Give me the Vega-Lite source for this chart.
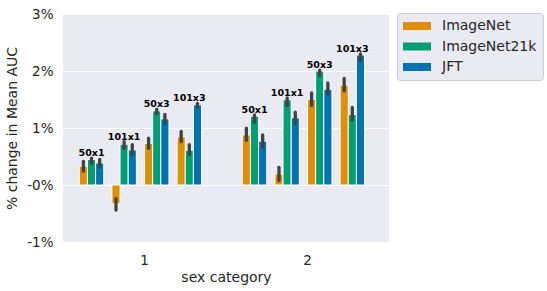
{
  "$schema": "https://vega.github.io/schema/vega-lite/v6.json",
  "autosize": "none",
  "width": 326,
  "height": 228,
  "padding": {"left": 63, "top": 14, "right": 158, "bottom": 49},
  "background": "white",
  "config": {
    "font": "DejaVu Sans",
    "view": {"fill": "#eaeaf2", "stroke": null},
    "axis": {"domain": false, "ticks": false, "labelColor": "#262626", "titleColor": "#262626", "labelFontSize": 13.5, "titleFontSize": 14, "titleFontWeight": "normal", "gridColor": "white", "gridWidth": 1}
  },
  "data": {"values": [
    {"cat": "1", "size": "50x1", "dataset": "ImageNet", "slot": "50x1|ImageNet", "value": 0.33, "lo": 0.245, "hi": 0.415},
    {"cat": "1", "size": "50x1", "dataset": "ImageNet21k", "slot": "50x1|ImageNet21k", "value": 0.446, "lo": 0.38, "hi": 0.47},
    {"cat": "1", "size": "50x1", "dataset": "JFT", "slot": "50x1|JFT", "value": 0.387, "lo": 0.315, "hi": 0.45},
    {"cat": "1", "size": "101x1", "dataset": "ImageNet", "slot": "101x1|ImageNet", "value": -0.33, "lo": -0.44, "hi": -0.24},
    {"cat": "1", "size": "101x1", "dataset": "ImageNet21k", "slot": "101x1|ImageNet21k", "value": 0.715, "lo": 0.64, "hi": 0.76},
    {"cat": "1", "size": "101x1", "dataset": "JFT", "slot": "101x1|JFT", "value": 0.615, "lo": 0.53, "hi": 0.71},
    {"cat": "1", "size": "50x3", "dataset": "ImageNet", "slot": "50x3|ImageNet", "value": 0.727, "lo": 0.645, "hi": 0.82},
    {"cat": "1", "size": "50x3", "dataset": "ImageNet21k", "slot": "50x3|ImageNet21k", "value": 1.30, "lo": 1.25, "hi": 1.33},
    {"cat": "1", "size": "50x3", "dataset": "JFT", "slot": "50x3|JFT", "value": 1.16, "lo": 1.085, "hi": 1.24},
    {"cat": "1", "size": "101x3", "dataset": "ImageNet", "slot": "101x3|ImageNet", "value": 0.844, "lo": 0.76, "hi": 0.94},
    {"cat": "1", "size": "101x3", "dataset": "ImageNet21k", "slot": "101x3|ImageNet21k", "value": 0.61, "lo": 0.535, "hi": 0.71},
    {"cat": "1", "size": "101x3", "dataset": "JFT", "slot": "101x3|JFT", "value": 1.406, "lo": 1.37, "hi": 1.43},
    {"cat": "2", "size": "50x1", "dataset": "ImageNet", "slot": "50x1|ImageNet", "value": 0.879, "lo": 0.785, "hi": 0.996},
    {"cat": "2", "size": "50x1", "dataset": "ImageNet21k", "slot": "50x1|ImageNet21k", "value": 1.207, "lo": 1.10, "hi": 1.23},
    {"cat": "2", "size": "50x1", "dataset": "JFT", "slot": "50x1|JFT", "value": 0.768, "lo": 0.668, "hi": 0.879},
    {"cat": "2", "size": "101x1", "dataset": "ImageNet", "slot": "101x1|ImageNet", "value": 0.193, "lo": 0.077, "hi": 0.31},
    {"cat": "2", "size": "101x1", "dataset": "ImageNet21k", "slot": "101x1|ImageNet21k", "value": 1.494, "lo": 1.395, "hi": 1.53},
    {"cat": "2", "size": "101x1", "dataset": "JFT", "slot": "101x1|JFT", "value": 1.178, "lo": 1.08, "hi": 1.28},
    {"cat": "2", "size": "50x3", "dataset": "ImageNet", "slot": "50x3|ImageNet", "value": 1.50, "lo": 1.395, "hi": 1.617},
    {"cat": "2", "size": "50x3", "dataset": "ImageNet21k", "slot": "50x3|ImageNet21k", "value": 1.998, "lo": 1.92, "hi": 2.016},
    {"cat": "2", "size": "50x3", "dataset": "JFT", "slot": "50x3|JFT", "value": 1.68, "lo": 1.59, "hi": 1.79},
    {"cat": "2", "size": "101x3", "dataset": "ImageNet", "slot": "101x3|ImageNet", "value": 1.752, "lo": 1.65, "hi": 1.87},
    {"cat": "2", "size": "101x3", "dataset": "ImageNet21k", "slot": "101x3|ImageNet21k", "value": 1.237, "lo": 1.137, "hi": 1.36},
    {"cat": "2", "size": "101x3", "dataset": "JFT", "slot": "101x3|JFT", "value": 2.28, "lo": 2.19, "hi": 2.30}
  ]},
  "encoding": {
    "x": {"field": "cat", "type": "nominal", "scale": {"paddingInner": 0.2, "paddingOuter": 0.1}, "axis": {"title": "sex category", "labelAngle": 0, "labelPadding": 11, "titlePadding": 4}},
    "xOffset": {"field": "slot", "type": "nominal", "scale": {"domain": ["50x1|ImageNet", "50x1|ImageNet21k", "50x1|JFT", "50x1|gap", "101x1|ImageNet", "101x1|ImageNet21k", "101x1|JFT", "101x1|gap", "50x3|ImageNet", "50x3|ImageNet21k", "50x3|JFT", "50x3|gap", "101x3|ImageNet", "101x3|ImageNet21k", "101x3|JFT", "101x3|gap"], "paddingInner": 0, "paddingOuter": 0}}
  },
  "layer": [
    {
      "mark": {"type": "bar", "stroke": "white", "strokeWidth": 1},
      "encoding": {
        "y": {"field": "value", "type": "quantitative", "scale": {"domain": [-1, 3], "nice": false}, "axis": {"title": "% change in Mean AUC", "values": [-1, 0, 1, 2, 3], "labelExpr": "datum.value === 0 ? '-0%' : datum.value + '%'", "labelPadding": 10, "titlePadding": 7}},
        "color": {"field": "dataset", "type": "nominal", "scale": {"domain": ["ImageNet", "ImageNet21k", "JFT"], "range": ["#de8f05", "#029e73", "#0173b2"]},
          "legend": {"title": null, "orient": "none", "legendX": 334, "legendY": -1, "labelFontSize": 14, "labelColor": "#262626", "symbolType": "M-1,-0.57H3V0.57H-1Z", "symbolSize": 196, "symbolStrokeWidth": 0, "labelOffset": 25, "rowPadding": 6.5, "padding": 6, "fillColor": "#eaeaf2", "strokeColor": "#cccccc", "cornerRadius": 3}}
      }
    },
    {
      "mark": {"type": "rule", "color": "#424242", "strokeWidth": 3.3, "strokeCap": "round"},
      "encoding": {
        "y": {"field": "lo", "type": "quantitative"},
        "y2": {"field": "hi"}
      }
    },
    {
      "transform": [
        {"joinaggregate": [{"op": "max", "field": "hi", "as": "top"}], "groupby": ["cat", "size"]},
        {"filter": "datum.dataset === 'ImageNet21k'"}
      ],
      "mark": {"type": "text", "fontSize": 9.5, "fontWeight": "bold", "color": "black", "baseline": "alphabetic", "dy": -2},
      "encoding": {
        "y": {"field": "top", "type": "quantitative"},
        "text": {"field": "size"}
      }
    }
  ]
}
